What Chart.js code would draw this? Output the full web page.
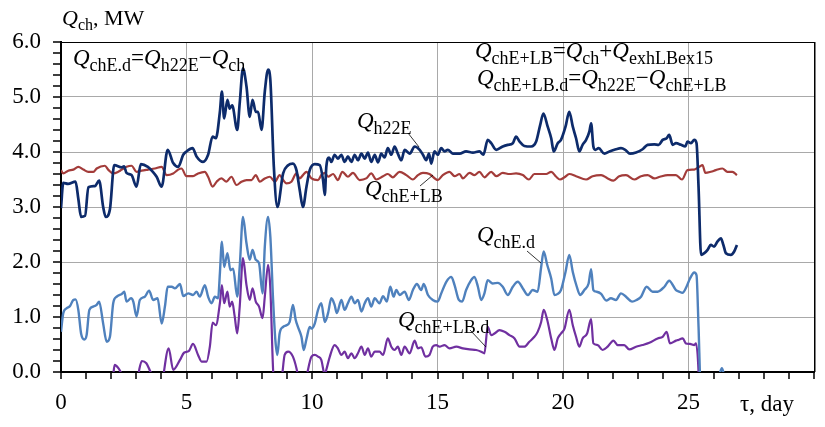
<!DOCTYPE html>
<html>
<head>
<meta charset="utf-8">
<script src="https://cdn.jsdelivr.net/npm/chart.js@4.4.0/dist/chart.umd.min.js"></script>
<style>
  html, body { margin: 0; padding: 0; background: #fff; }
  #wrap { width: 825px; height: 427px; }
</style>
</head>
<body>
<div id="wrap"><canvas id="chart" width="825" height="427"></canvas></div>
<script>
// --- data (days, MW) ---
const h22eDays = [0.00,0.09,0.28,0.58,0.69,0.80,0.96,1.09,1.35,1.52,1.68,1.78,1.95,2.12,2.42,2.51,2.61,2.81,3.01,3.18,3.46,3.66,3.81,4.01,4.25,4.47,4.67,4.87,5.00,5.24,5.40,5.66,5.86,6.04,6.17,6.33,6.41,6.50,6.63,6.72,6.82,7.02,7.12,7.25,7.39,7.52,7.63,7.76,7.85,7.99,8.12,8.25,8.34,8.48,8.62,8.85,9.05,9.24,9.38,9.51,9.64,9.78,9.91,10.11,10.31,10.44,10.51,10.57,10.68,10.77,10.90,11.03,11.17,11.30,11.43,11.57,11.70,11.83,11.97,12.10,12.23,12.36,12.50,12.63,12.76,12.89,13.02,13.16,13.29,13.42,13.56,13.69,13.89,14.09,14.29,14.42,14.55,14.66,14.75,14.88,15.01,15.15,15.28,15.41,15.61,15.88,16.14,16.41,16.67,16.83,17.00,17.14,17.34,17.60,17.80,18.00,18.13,18.27,18.46,18.73,18.93,19.09,19.22,19.39,19.53,19.63,19.79,19.92,20.10,20.25,20.39,20.52,20.65,20.78,20.92,21.05,21.12,21.21,21.29,21.42,21.65,21.85,22.11,22.31,22.48,22.67,22.91,23.17,23.37,23.64,23.81,23.97,24.13,24.23,24.37,24.50,24.70,24.87,24.96,25.10,25.23,25.32,25.40,25.50,25.63,25.76,25.89,26.02,26.15,26.29,26.39,26.49,26.69,26.82,26.93];
const h22eVals = [2.98,3.44,3.42,3.46,3.15,2.82,2.84,3.36,3.38,3.48,3.00,2.82,2.96,3.76,3.72,3.74,3.62,3.58,3.37,3.78,3.73,3.64,3.55,3.37,4.04,3.80,3.73,3.95,4.01,4.07,3.92,3.82,3.95,4.28,4.25,4.73,5.10,4.61,4.95,4.79,4.85,4.40,4.89,5.52,5.19,4.64,4.95,4.73,4.73,4.40,5.10,5.50,5.31,3.73,3.00,3.61,3.76,3.79,3.67,3.31,3.00,3.37,3.67,3.78,3.76,3.49,3.22,3.73,3.90,3.82,3.95,3.88,3.95,3.82,3.92,3.82,3.95,3.85,3.97,3.88,3.99,3.82,3.95,3.81,3.97,3.90,4.07,3.95,4.10,3.97,3.85,4.04,3.97,4.10,4.04,3.95,3.85,3.97,3.79,4.01,3.95,4.07,4.01,4.04,3.97,3.97,4.01,3.99,4.01,3.95,4.22,4.16,4.04,4.10,4.13,4.16,4.28,4.19,4.11,4.10,4.19,4.49,4.70,4.46,4.25,4.01,4.16,4.22,4.46,4.73,4.46,4.25,4.01,4.13,4.22,4.37,4.52,4.10,4.04,4.07,3.97,4.01,4.05,4.07,4.04,3.97,3.99,4.05,4.13,4.14,4.13,4.22,4.25,4.31,4.13,4.16,4.13,4.10,4.19,4.16,4.22,4.16,3.37,2.13,2.16,2.22,2.31,2.28,2.37,2.43,2.31,2.16,2.13,2.19,2.31];

const lbDays = [0.00,0.09,0.29,0.49,0.69,0.89,1.09,1.29,1.42,1.75,1.88,2.08,2.28,2.42,2.61,2.81,3.01,3.21,3.47,3.74,4.01,4.21,4.47,4.67,4.80,5.00,5.26,5.46,5.73,5.86,6.04,6.20,6.39,6.59,6.79,6.99,7.19,7.39,7.59,7.76,7.92,8.12,8.32,8.52,8.71,8.85,8.98,9.18,9.38,9.51,9.64,9.78,9.98,10.24,10.37,10.51,10.64,10.84,11.03,11.21,11.43,11.63,11.90,12.16,12.36,12.56,12.83,13.02,13.22,13.49,13.76,14.02,14.22,14.42,14.68,15.01,15.21,15.48,15.68,15.88,16.01,16.28,16.47,16.67,16.87,17.14,17.34,17.60,17.87,18.13,18.40,18.64,18.86,19.13,19.33,19.53,19.73,19.88,20.06,20.25,20.52,20.92,21.18,21.52,21.78,22.01,22.24,22.51,22.84,23.11,23.37,23.64,23.86,24.17,24.50,24.74,24.96,25.23,25.43,25.56,25.67,25.89,26.09,26.35,26.55,26.75,26.93];
const lbVals = [3.67,3.61,3.66,3.68,3.73,3.68,3.64,3.64,3.70,3.75,3.68,3.61,3.64,3.68,3.73,3.75,3.64,3.66,3.68,3.70,3.73,3.58,3.61,3.68,3.70,3.56,3.56,3.61,3.64,3.55,3.37,3.46,3.52,3.46,3.55,3.40,3.46,3.49,3.49,3.58,3.46,3.52,3.55,3.46,3.58,3.49,3.43,3.46,3.61,3.52,3.58,3.64,3.52,3.49,3.58,3.62,3.55,3.60,3.49,3.64,3.55,3.62,3.49,3.52,3.61,3.50,3.56,3.60,3.54,3.64,3.58,3.50,3.58,3.62,3.60,3.49,3.58,3.64,3.56,3.60,3.52,3.62,3.58,3.64,3.54,3.64,3.56,3.62,3.60,3.61,3.58,3.50,3.60,3.60,3.60,3.64,3.55,3.50,3.54,3.60,3.56,3.50,3.56,3.58,3.52,3.48,3.56,3.58,3.50,3.56,3.58,3.52,3.55,3.58,3.58,3.50,3.67,3.68,3.73,3.76,3.62,3.64,3.67,3.70,3.64,3.64,3.58];

const edDays = [0.00,0.09,0.23,0.36,0.49,0.58,0.69,0.80,0.93,1.02,1.13,1.29,1.42,1.52,1.68,1.82,1.95,2.08,2.22,2.42,2.52,2.61,2.79,2.88,3.01,3.14,3.34,3.51,3.67,3.85,4.01,4.14,4.25,4.41,4.54,4.74,4.87,5.07,5.26,5.40,5.53,5.73,5.86,6.00,6.13,6.26,6.33,6.41,6.50,6.63,6.75,6.86,7.02,7.12,7.25,7.39,7.52,7.63,7.76,7.89,8.03,8.12,8.25,8.34,8.45,8.54,8.62,8.71,8.85,8.98,9.11,9.24,9.35,9.44,9.58,9.67,9.78,9.91,9.98,10.11,10.24,10.37,10.51,10.64,10.77,10.90,10.99,11.17,11.30,11.43,11.57,11.70,11.83,11.97,12.10,12.23,12.36,12.50,12.69,12.83,12.98,13.12,13.25,13.36,13.49,13.69,13.86,14.02,14.18,14.35,14.45,14.62,14.81,15.01,15.15,15.35,15.55,15.68,15.85,15.98,16.14,16.34,16.47,16.61,16.74,16.87,17.00,17.20,17.40,17.60,17.80,18.00,18.20,18.40,18.60,18.79,18.99,19.13,19.23,19.37,19.53,19.66,19.79,19.92,20.10,20.25,20.39,20.55,20.68,20.85,21.02,21.12,21.21,21.34,21.52,21.72,21.91,22.11,22.31,22.53,22.75,22.93,23.11,23.33,23.57,23.77,24.04,24.23,24.50,24.63,24.76,24.92,25.06,25.23,25.32,25.40,25.49,26.00,26.20,26.33,26.45,26.93];
const edVals = [0.73,1.07,1.16,1.20,1.31,1.32,1.13,0.70,0.59,0.67,1.13,1.19,1.22,1.28,0.88,0.55,0.64,1.25,1.37,1.42,1.46,1.28,1.34,1.28,1.01,1.31,1.37,1.48,1.31,1.34,0.88,1.19,1.55,1.55,1.52,1.60,1.38,1.43,1.40,1.46,1.37,1.58,1.37,1.25,1.37,1.34,1.79,2.37,1.91,2.16,1.85,1.88,1.37,1.91,2.82,2.34,2.04,2.22,2.04,1.98,1.43,2.28,2.82,2.46,1.31,0.58,0.31,0.70,0.82,0.85,0.91,1.22,0.95,0.82,0.64,0.40,0.60,0.82,0.79,0.88,1.13,1.25,0.91,1.07,1.34,1.22,1.07,1.31,1.13,1.25,1.37,1.25,1.31,1.10,1.25,1.34,1.19,1.34,1.25,1.38,1.28,1.55,1.37,1.49,1.40,1.46,1.31,1.49,1.60,1.49,1.60,1.40,1.31,1.28,1.43,1.64,1.73,1.58,1.31,1.28,1.49,1.67,1.73,1.55,1.31,1.43,1.67,1.61,1.62,1.55,1.40,1.55,1.64,1.52,1.40,1.49,1.46,1.91,2.19,1.95,1.70,1.40,1.42,1.49,1.82,2.13,1.82,1.55,1.40,1.49,1.61,1.87,1.49,1.46,1.42,1.30,1.34,1.31,1.43,1.36,1.28,1.31,1.37,1.55,1.46,1.46,1.55,1.66,1.49,1.46,1.44,1.55,1.70,1.81,1.76,0.82,-0.30,-0.25,-0.10,0.07,-0.10,-0.20];

const lbdDays = [0.00,0.50,0.80,1.10,1.50,1.80,2.00,2.10,2.14,2.30,2.50,2.80,3.00,3.12,3.22,3.40,3.55,3.70,4.00,4.10,4.29,4.47,4.74,4.90,5.09,5.26,5.46,5.60,5.80,5.93,6.04,6.17,6.33,6.41,6.50,6.63,6.72,6.82,6.92,7.02,7.12,7.25,7.39,7.52,7.63,7.76,7.89,8.03,8.12,8.25,8.34,8.45,8.52,8.62,8.80,8.91,9.05,9.24,9.38,9.50,9.64,9.84,9.98,10.11,10.24,10.37,10.51,10.57,10.71,10.90,11.03,11.17,11.30,11.43,11.57,11.70,11.83,11.97,12.10,12.23,12.36,12.50,12.69,12.83,13.02,13.16,13.29,13.42,13.56,13.69,13.89,14.09,14.22,14.35,14.52,14.68,14.81,14.95,15.08,15.28,15.48,15.75,16.01,16.28,16.54,16.74,16.87,17.00,17.14,17.27,17.47,17.67,17.87,18.07,18.27,18.46,18.66,18.86,18.99,19.13,19.23,19.37,19.53,19.66,19.79,19.92,20.06,20.25,20.39,20.52,20.65,20.78,20.96,21.12,21.21,21.38,21.58,21.78,22.01,22.18,22.44,22.64,22.91,23.17,23.44,23.77,23.97,24.13,24.26,24.50,24.57,24.77,24.90,25.06,25.23,25.30,25.40,25.50,26.00,26.93];
const lbdVals = [-0.69,-0.25,-0.90,-0.30,-0.20,-0.90,-0.60,0.02,0.13,0.06,-0.10,-0.20,-0.30,0.05,0.20,0.16,0.02,-0.10,-0.40,0.00,0.43,0.04,0.22,0.35,0.38,0.51,0.31,0.19,0.19,0.46,0.90,0.85,1.25,1.58,1.25,1.46,1.19,1.28,1.01,0.70,1.19,2.07,1.58,1.31,1.52,1.28,1.19,0.98,1.37,1.95,1.52,0.04,-0.30,-0.50,-0.10,0.31,0.37,0.28,0.07,-0.20,-0.50,0.04,0.28,0.31,0.28,0.22,-0.05,0.04,0.28,0.49,0.43,0.31,0.37,0.25,0.34,0.25,0.34,0.46,0.31,0.43,0.28,0.37,0.37,0.31,0.61,0.46,0.40,0.46,0.31,0.46,0.34,0.57,0.43,0.45,0.28,0.31,0.46,0.49,0.46,0.49,0.43,0.46,0.43,0.41,0.40,0.37,0.34,0.82,0.67,0.70,0.76,0.73,0.67,0.61,0.46,0.46,0.55,0.64,0.73,0.91,1.13,0.95,0.61,0.40,0.61,0.70,0.79,1.13,0.85,0.64,0.46,0.61,0.70,0.96,0.52,0.49,0.40,0.46,0.57,0.49,0.49,0.41,0.46,0.49,0.53,0.61,0.64,0.73,0.52,0.57,0.58,0.61,0.52,0.51,0.49,0.52,0.00,-1.60,-1.40,-1.30];

const xTickLabels = [0, 5, 10, 15, 20, 25];
const yTickLabels = [0, 1, 2, 3, 4, 5, 6];

const SERIF = '"Liberation Serif", "Times New Roman", serif';
const BIG = 23, SMALL = 18;

function pts(days, vals) {
    return days.map((d, i) => ({ x: d, y: vals[i] }));
}

// draws Q with roman subscripts, piece by piece
function rich(ctx, x, y, parts, big, small) {
    let cx = x;
    parts.forEach(p => {
        const txt = p[0], kind = p[1];
        if (kind === 'q') ctx.font = 'italic ' + big + 'px ' + SERIF;
        else if (kind === 's') ctx.font = small + 'px ' + SERIF;
        else ctx.font = big + 'px ' + SERIF;
        const dy = kind === 's' ? Math.round(big * 0.24) : 0;
        ctx.fillText(txt, cx, y + dy);
        cx += ctx.measureText(txt).width;
    });
}

const textPlugin = {
    id: 'texts',
    afterDraw(chart) {
        const ctx = chart.ctx;
        const a = chart.chartArea;
        const xs = chart.scales.x, ys = chart.scales.y;
        ctx.save();
        ctx.fillStyle = '#000';
        // frame top / right
        ctx.fillRect(a.left, a.top, a.right - a.left + 1, 1);
        ctx.fillRect(Math.round(a.right), a.top, 1.5, a.bottom - a.top);

        // outside ticks, one per day and one per 0.2 MW
        for (let d = 0; d <= 30; d++) {
            const px = Math.round(xs.getPixelForValue(d));
            ctx.fillRect(px - 0.75, a.bottom, 1.5, 7);
        }
        for (let k = 0; k <= 30; k++) {
            const py = Math.round(ys.getPixelForValue(k * 0.2));
            ctx.fillRect(a.left - 8, py - 0.75, 8, 1.5);
        }

        ctx.textBaseline = 'alphabetic';
        ctx.textAlign = 'left';
        rich(ctx, 62, 25, [['Q', 'q'], ['ch', 's'], [', MW', 'n']], 22, 16);
        rich(ctx, 73, 65, [['Q', 'q'], ['chE.d', 's'], ['=', 'n'], ['Q', 'q'], ['h22E', 's'], ['\u2212', 'n'], ['Q', 'q'], ['ch', 's']], BIG, SMALL);
        rich(ctx, 475, 58, [['Q', 'q'], ['chE+LB', 's'], ['=', 'n'], ['Q', 'q'], ['ch', 's'], ['+', 'n'], ['Q', 'q'], ['exhLBex15', 's']], BIG, SMALL);
        rich(ctx, 477, 85, [['Q', 'q'], ['chE+LB.d', 's'], ['=', 'n'], ['Q', 'q'], ['h22E', 's'], ['\u2212', 'n'], ['Q', 'q'], ['chE+LB', 's']], BIG, SMALL);
        rich(ctx, 357, 128, [['Q', 'q'], ['h22E', 's']], BIG, SMALL);
        rich(ctx, 365, 196, [['Q', 'q'], ['chE+LB', 's']], BIG, SMALL);
        rich(ctx, 477, 242, [['Q', 'q'], ['chE.d', 's']], BIG, SMALL);
        rich(ctx, 398, 327, [['Q', 'q'], ['chE+LB.d', 's']], BIG, SMALL);

        ctx.font = BIG + 'px ' + SERIF;
        ctx.textAlign = 'center';
        ctx.fillText('\u03c4, day', 767, 411);

        // leader lines
        ctx.strokeStyle = '#000';
        ctx.lineWidth = 0.8;
        ctx.beginPath();
        ctx.moveTo(408, 133); ctx.lineTo(419, 147);
        ctx.moveTo(420, 186); ctx.lineTo(433, 175);
        ctx.moveTo(527, 251); ctx.lineTo(541, 263);
        ctx.moveTo(470, 330); ctx.lineTo(486, 347);
        ctx.stroke();
        ctx.restore();
    }
};

function isMajorY(v) { return yTickLabels.some(t => Math.abs(t - v) < 1e-6); }
function isMajorX(v) { return xTickLabels.some(t => Math.abs(t - v) < 1e-6); }

new Chart(document.getElementById('chart'), {
    type: 'line',
    data: {
        datasets: [
            { label: 'QchE+LB.d', data: pts(lbdDays, lbdVals), borderColor: '#7030a0', borderWidth: 2.2, order: 4 },
            { label: 'QchE.d', data: pts(edDays, edVals), borderColor: '#4f81bd', borderWidth: 2.4, order: 3 },
            { label: 'QchE+LB', data: pts(lbDays, lbVals), borderColor: '#a33c3a', borderWidth: 2.2, order: 2 },
            { label: 'Qh22E', data: pts(h22eDays, h22eVals), borderColor: '#0d2b6b', borderWidth: 2.7, order: 1 }
        ]
    },
    options: {
        responsive: false,
        animation: false,
        devicePixelRatio: 1,
        layout: { padding: { top: 42, right: 10, left: 0, bottom: 0 } },
        plugins: { legend: { display: false }, tooltip: { enabled: false } },
        elements: {
            point: { radius: 0 },
            line: { cubicInterpolationMode: 'monotone', fill: false }
        },
        scales: {
            x: {
                type: 'linear', min: 0, max: 30,
                afterFit: s => { s.height = 55; },
                ticks: {
                    stepSize: 1, autoSkip: false, maxRotation: 0, color: '#000', padding: 11,
                    font: { family: SERIF, size: BIG },
                    callback: v => isMajorX(v) ? String(v) : ''
                },
                grid: {
                    color: c => (c.tick && isMajorX(c.tick.value) && c.tick.value > 0) ? '#a9a9a9' : 'rgba(0,0,0,0)',
                    tickColor: 'rgba(0,0,0,0)', tickLength: 6, lineWidth: 1
                },
                border: { color: '#000', width: 2 }
            },
            y: {
                min: 0, max: 6,
                afterFit: s => { s.width = 61; },
                ticks: {
                    stepSize: 0.2, autoSkip: false, color: '#000', padding: 12,
                    font: { family: SERIF, size: BIG },
                    callback: v => isMajorY(v) ? Number(v).toFixed(1) : ''
                },
                grid: {
                    color: c => (c.tick && isMajorY(c.tick.value) && c.tick.value > 0) ? '#a9a9a9' : 'rgba(0,0,0,0)',
                    tickColor: 'rgba(0,0,0,0)', tickLength: 8, lineWidth: 1
                },
                border: { color: '#000', width: 2 }
            }
        }
    },
    plugins: [textPlugin]
});
</script>
</body>
</html>
